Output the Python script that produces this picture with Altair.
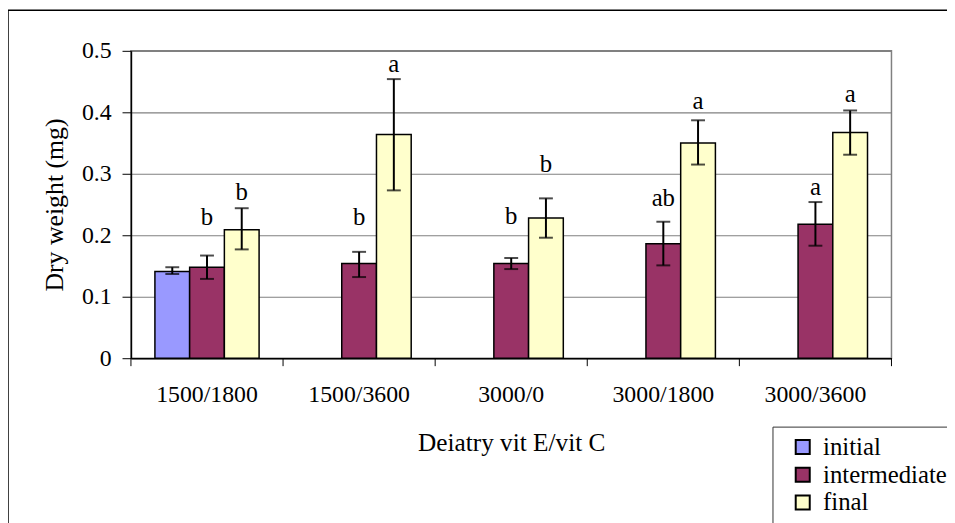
import altair as alt
import pandas as pd

categories = ["1500/1800", "1500/3600", "3000/0", "3000/1800", "3000/3600"]
series = ["initial", "intermediate", "final"]
colors = ["#9999FF", "#993366", "#FFFFCC"]

initial_mean = [0.141]
initial_lo = [0.137]
initial_hi = [0.148]

intermediate_mean = [0.148, 0.154, 0.154, 0.186, 0.218]
intermediate_lo = [0.129, 0.132, 0.145, 0.151, 0.183]
intermediate_hi = [0.167, 0.173, 0.163, 0.222, 0.254]
intermediate_letters = ["b", "b", "b", "ab", "a"]
intermediate_letter_y = [0.216, 0.216, 0.219, 0.248, 0.265]

final_mean = [0.209, 0.364, 0.228, 0.350, 0.367]
final_lo = [0.177, 0.273, 0.196, 0.315, 0.331]
final_hi = [0.244, 0.454, 0.260, 0.387, 0.403]
final_letters = ["b", "a", "b", "a", "a"]
final_letter_y = [0.258, 0.465, 0.303, 0.406, 0.416]

rows = []
rows.append(dict(cat=categories[0], ser="initial", v=initial_mean[0],
                 lo=initial_lo[0], hi=initial_hi[0], letter="", ly=None))
for i, c in enumerate(categories):
    rows.append(dict(cat=c, ser="intermediate", v=intermediate_mean[i],
                     lo=intermediate_lo[i], hi=intermediate_hi[i],
                     letter=intermediate_letters[i], ly=intermediate_letter_y[i]))
    rows.append(dict(cat=c, ser="final", v=final_mean[i],
                     lo=final_lo[i], hi=final_hi[i],
                     letter=final_letters[i], ly=final_letter_y[i]))
df = pd.DataFrame(rows)
cat_df = pd.DataFrame({"cat": categories})

FONT = "Liberation Serif"
W, H = 767, 310

xscale = alt.Scale(domain=categories, paddingInner=0, paddingOuter=0)
xoff_scale = alt.Scale(domain=series, paddingInner=0, paddingOuter=0.69)
yscale = alt.Scale(domain=[0, 0.5])

X = alt.X("cat:N", scale=xscale, sort=categories,
          axis=alt.Axis(title="Deiatry vit E/vit C", labelAngle=0, ticks=False,
                        labelPadding=25, titlePadding=24, domainColor="black",
                        labelFontSize=24, titleFontSize=25.5))
XO = alt.XOffset("ser:N", scale=xoff_scale, sort=series)

base = alt.Chart(df)

bars = base.mark_bar(stroke="black", strokeWidth=1.5).encode(
    x=X,
    xOffset=XO,
    y=alt.Y("v:Q", scale=yscale,
            axis=alt.Axis(title="Dry weight (mg)", values=[0, 0.1, 0.2, 0.3, 0.4, 0.5],
                          format="~g", tickSize=9, labelPadding=11, titlePadding=14,
                          domainColor="black", tickColor="black",
                          gridColor="#808080", grid=True,
                          labelFontSize=24, titleFontSize=26)),
    color=alt.Color("ser:N", scale=alt.Scale(domain=series, range=colors),
                    legend=alt.Legend(title=None, orient="none", legendX=647, legendY=379,
                                      symbolType="square", symbolSize=200,
                                      symbolStrokeColor="black", symbolStrokeWidth=2,
                                      symbolOffset=10, labelFontSize=25, labelFont=FONT,
                                      labelColor="black", strokeColor="#333333",
                                      padding=8, rowPadding=2, labelOffset=8,
                                      fillColor="white")),
)

err = base.mark_rule(color="black", strokeWidth=2).encode(
    x=X, xOffset=XO, y=alt.Y("lo:Q", scale=yscale), y2="hi:Q"
)
cap_lo = base.mark_tick(color="black", thickness=2, size=14, orient="horizontal").encode(
    x=X, xOffset=XO, y=alt.Y("lo:Q", scale=yscale)
)
cap_hi = base.mark_tick(color="black", thickness=2, size=14, orient="horizontal").encode(
    x=X, xOffset=XO, y=alt.Y("hi:Q", scale=yscale)
)
letters = base.transform_filter("datum.letter != ''").mark_text(
    font=FONT, fontSize=25, baseline="alphabetic", color="black"
).encode(x=X, xOffset=XO, y=alt.Y("ly:Q", scale=yscale), text="letter:N")

xticks = alt.Chart(cat_df).mark_rule(color="black", strokeWidth=1).encode(
    x=alt.X("cat:N", scale=xscale, sort=categories, bandPosition=0),
    y=alt.value(H), y2=alt.value(H + 8)
)
xtick_end = alt.Chart(cat_df).transform_filter(
    alt.datum.cat == categories[-1]
).mark_rule(color="black", strokeWidth=1).encode(
    x=alt.X("cat:N", scale=xscale, sort=categories, bandPosition=1),
    y=alt.value(H), y2=alt.value(H + 8)
)

frame = alt.Chart(pd.DataFrame({"f": [0]})).mark_rect(
    filled=False, stroke="black", strokeWidth=1.5
).encode(x=alt.value(-124), x2=alt.value(900), y=alt.value(-41), y2=alt.value(520))

chart = alt.layer(frame, bars, err, cap_lo, cap_hi, letters, xticks, xtick_end).properties(
    width=W, height=H,
    autosize=alt.AutoSizeParams(type="none"),
    padding={"left": 124, "top": 41, "right": 56, "bottom": 164},
).configure_view(stroke="#808080", strokeWidth=1.5).configure_axis(
    labelFont=FONT, titleFont=FONT,
    labelColor="black", titleColor="black", titleFontWeight="normal",
    domainWidth=1.5, gridWidth=1.2,
)

chart.save("out.html", embed_options={"renderer": "svg", "actions": False})
